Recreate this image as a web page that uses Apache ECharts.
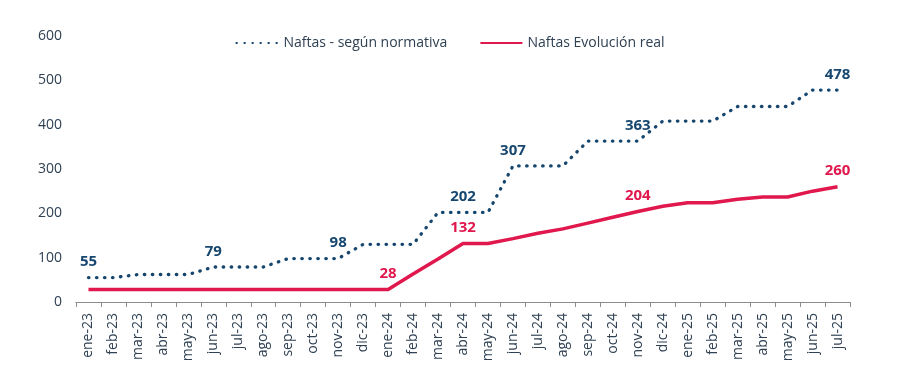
<!DOCTYPE html>
<html>
<head>
<meta charset="utf-8">
<script src="https://cdn.jsdelivr.net/npm/echarts@6/dist/echarts.min.js"></script>
<style>html,body{margin:0;padding:0;background:#fff}#c{width:900px;height:384px}</style>
</head>
<body>
<div id="c"></div>
<script>
const categories = ['ene-23','feb-23','mar-23','abr-23','may-23','jun-23','jul-23','ago-23','sep-23','oct-23','nov-23','dic-23',
  'ene-24','feb-24','mar-24','abr-24','may-24','jun-24','jul-24','ago-24','sep-24','oct-24','nov-24','dic-24',
  'ene-25','feb-25','mar-25','abr-25','may-25','jun-25','jul-25'];
const normativa = [55,55,62,62,62,79,79,79,98,98,98,130,130,130,202,202,202,307,307,307,363,363,363,408,408,408,441,441,441,478,478];
const real = [28,28,28,28,28,28,28,28,28,28,28,28,28,63,97,132,132,143,155,165,178,191,204,216,224,224,232,237,237,250,260];
const normativaLabelIdx = [0,5,10,15,17,22,30];
const realLabelIdx = [12,15,22,30];
const yTicks = [0,100,200,300,400,500,600];

const BLUE = '#17476F', RED = '#E0184D', TXT = '#2F4153';
const FONT = 'Open Sans';

function withLabels(vals, idx, color) {
  return vals.map((v, i) => idx.includes(i)
    ? { value: v, symbol: 'circle', symbolSize: 0.01,
        label: { show: true, position: 'top', distance: 8, color: color, fontWeight: 'bold', fontSize: 15, fontFamily: FONT } }
    : v);
}

const chart = echarts.init(document.getElementById('c'));
chart.setOption({
  animation: false,
  textStyle: { fontFamily: FONT },
  legend: {
    top: 31, left: 'center', itemGap: 32, itemWidth: 42, itemHeight: 10,
    textStyle: { color: TXT, fontSize: 14, fontFamily: FONT },
    itemStyle: { opacity: 0 },
    data: ['Naftas - según normativa', 'Naftas Evolución real']
  },
  grid: { left: 76, right: 50, top: 36, bottom: 82 },
  xAxis: {
    type: 'category', data: categories, boundaryGap: true,
    axisLine: { lineStyle: { color: '#8c8c8c', width: 1.2 } },
    axisTick: { show: true, lineStyle: { color: '#8c8c8c' }, length: 5 },
    axisLabel: { rotate: 90, color: TXT, fontSize: 14, fontFamily: FONT, interval: 0, margin: 11 }
  },
  yAxis: {
    type: 'value', min: yTicks[0], max: yTicks[yTicks.length - 1], interval: 100,
    axisLine: { show: false }, axisTick: { show: false }, splitLine: { show: false },
    axisLabel: { color: TXT, fontSize: 14, fontFamily: FONT, margin: 14 }
  },
  series: [
    {
      name: 'Naftas - según normativa', type: 'line', symbol: 'none', showSymbol: true,
      data: withLabels(normativa, normativaLabelIdx, BLUE),
      lineStyle: { color: BLUE, width: 3.3, type: [0.5, 7.5], cap: 'round' },
      itemStyle: { color: BLUE }
    },
    {
      name: 'Naftas Evolución real', type: 'line', symbol: 'none', showSymbol: true,
      data: withLabels(real, realLabelIdx, RED),
      lineStyle: { color: RED, width: 3.5 },
      itemStyle: { color: RED }
    }
  ]
});
</script>
</body>
</html>
